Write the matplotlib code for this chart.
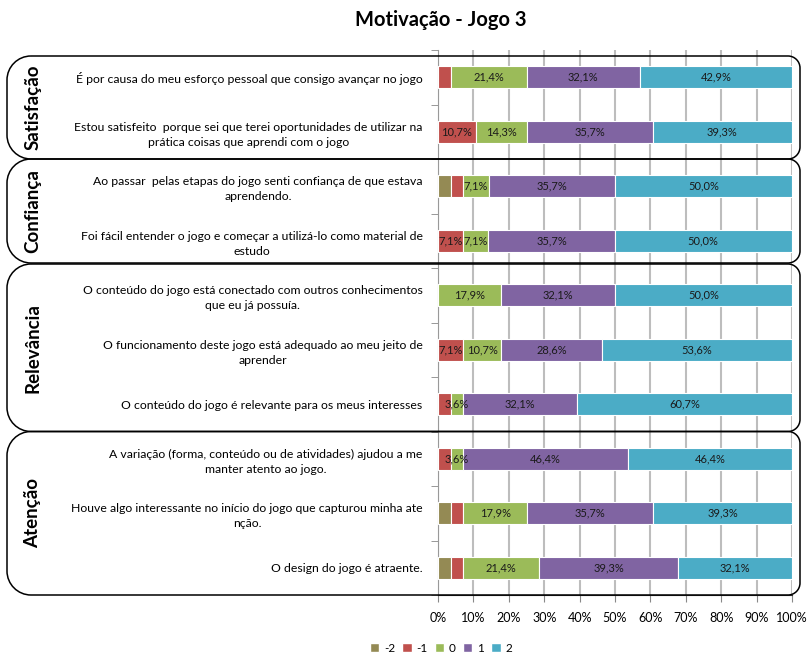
import numpy as np
import matplotlib
matplotlib.use("Agg")
import matplotlib.pyplot as plt
from matplotlib.path import Path
from matplotlib.patches import PathPatch, Patch

plt.rcParams['font.family'] = ['Lato', 'DejaVu Sans']

title = "Motivação - Jogo 3"

statements = [
    "É por causa do meu esforço pessoal que consigo avançar no jogo",
    "Estou satisfeito  porque sei que terei oportunidades de utilizar na\nprática coisas que aprendi com o jogo",
    "Ao passar  pelas etapas do jogo senti confiança de que estava\naprendendo.",
    "Foi fácil entender o jogo e começar a utilizá-lo como material de\nestudo",
    "O conteúdo do jogo está conectado com outros conhecimentos\nque eu já possuía.",
    "O funcionamento deste jogo está adequado ao meu jeito de\naprender",
    "O conteúdo do jogo é relevante para os meus interesses",
    "A variação (forma, conteúdo ou de atividades) ajudou a me\nmanter atento ao jogo.",
    "Houve algo interessante no início do jogo que capturou minha ate\nnção.",
    "O design do jogo é atraente.",
]

groups = ["Satisfação", "Confiança", "Relevância", "Atenção"]
group_rows = [(0, 1), (2, 3), (4, 6), (7, 9)]

series_names = ["-2", "-1", "0", "1", "2"]
v_m2 = [0.0, 0.0, 3.6, 0.0, 0.0, 0.0, 0.0, 0.0, 3.6, 3.6]
v_m1 = [3.6, 10.7, 3.6, 7.1, 0.0, 7.1, 3.6, 3.6, 3.6, 3.6]
v_0 = [21.4, 14.3, 7.1, 7.1, 17.9, 10.7, 3.6, 3.6, 17.9, 21.4]
v_1 = [32.1, 35.7, 35.7, 35.7, 32.1, 28.6, 32.1, 46.4, 35.7, 39.3]
v_2 = [42.9, 39.3, 50.0, 50.0, 50.0, 53.6, 60.7, 46.4, 39.3, 32.1]
series_values = [v_m2, v_m1, v_0, v_1, v_2]

# segments smaller than the label threshold that still carry a label (row, series)
small_labeled = [(6, 2), (7, 2)]
label_threshold = 7.0

colors = ["#948A54", "#C0504D", "#9BBB59", "#8064A2", "#4BACC6"]

W, H = 807, 656
fig = plt.figure(figsize=(W / 100, H / 100), dpi=100)
ax = fig.add_axes([438 / W, 61 / H, 354 / W, 545 / H])

n = len(statements)
y = np.arange(n)
left = np.zeros(n)
for si, (vals, col) in enumerate(zip(series_values, colors)):
    vals = np.array(vals)
    ax.barh(y, vals, left=left, height=0.4, color=col, edgecolor="white",
            linewidth=0.8, zorder=3)
    for ri in range(n):
        v = vals[ri]
        if v <= 0:
            continue
        if v >= label_threshold or (ri, si) in small_labeled:
            ax.text(left[ri] + v / 2, ri, f"{v:.1f}%".replace(".", ","),
                    ha="center", va="center", fontsize=8, color="#1a1a1a",
                    zorder=4)
    left += vals

ax.set_xlim(0, 100)
ax.set_ylim(n - 0.5, -0.5)
ax.set_xticks(np.arange(0, 101, 10))
ax.set_xticklabels([f"{t}%" for t in range(0, 101, 10)], fontsize=9)
ax.xaxis.grid(True, color="#bdbdbd", linewidth=1.5, zorder=0)
ax.set_axisbelow(True)
ax.tick_params(axis="x", length=5, color="#888888", pad=7)

ax.set_yticks(y)
ax.set_yticklabels(statements, fontsize=8.8, multialignment="center",
                   linespacing=1.45)
ax.set_yticks(np.arange(-0.5, n, 1), minor=True)
ax.tick_params(axis="y", which="major", length=0, pad=11)
ax.tick_params(axis="y", which="minor", length=5, color="#888888")
for s in ["top", "right"]:
    ax.spines[s].set_visible(False)
ax.spines["left"].set_color("#999999")
ax.spines["bottom"].set_color("#333333")

fig.text(441 / W, 1 - 20 / H, title, ha="center", va="center",
         fontsize=14.5, fontweight="bold")

# rounded group frames, built in pixel space
fig.canvas.draw()


def frame_path(x0, x1, top, bottom, rl, rr):
    k = 0.5523
    verts = [
        (x0 + rl, top),
        (x1 - rr, top),
        (x1 - rr + rr * k, top), (x1, top + rr - rr * k), (x1, top + rr),
        (x1, bottom - rr),
        (x1, bottom - rr + rr * k), (x1 - rr + rr * k, bottom), (x1 - rr, bottom),
        (x0 + rl, bottom),
        (x0 + rl - rl * k, bottom), (x0, bottom - rl + rl * k), (x0, bottom - rl),
        (x0, top + rl),
        (x0, top + rl - rl * k), (x0 + rl - rl * k, top), (x0 + rl, top),
    ]
    codes = [Path.MOVETO, Path.LINETO,
             Path.CURVE4, Path.CURVE4, Path.CURVE4,
             Path.LINETO,
             Path.CURVE4, Path.CURVE4, Path.CURVE4,
             Path.LINETO,
             Path.CURVE4, Path.CURVE4, Path.CURVE4,
             Path.LINETO,
             Path.CURVE4, Path.CURVE4, Path.CURVE4]
    verts = [(vx / W, 1 - vy / H) for vx, vy in verts]
    return Path(verts, codes)


def row_px(v):
    return H - ax.transData.transform((0, v))[1]


for gi, (name, (r0, r1)) in enumerate(zip(groups, group_rows)):
    top = row_px(r0 - 0.5)
    bottom = row_px(r1 + 0.5)
    if gi == 0:
        top += 6
    if gi == 1:
        bottom -= 5
    if gi == 2:
        top -= 4
    p = frame_path(7, 800, top, bottom, 24, 12)
    fig.add_artist(PathPatch(p, facecolor="none", edgecolor="black",
                             linewidth=1.1, transform=fig.transFigure,
                             zorder=5))
    fig.text(33 / W, 1 - (top + bottom) / 2 / H, name, rotation=90,
             ha="center", va="center", fontsize=13.5, fontweight="bold")

handles = [Patch(facecolor=c, edgecolor="white", label=s)
           for c, s in zip(colors, series_names)]
fig.legend(handles=handles, loc="center", bbox_to_anchor=(441 / W, 1 - 648 / H),
           ncol=5, frameon=False, fontsize=8.5, handlelength=0.8,
           handleheight=0.8, handletextpad=0.4, columnspacing=0.6)

fig.savefig("out.png", dpi=100)
